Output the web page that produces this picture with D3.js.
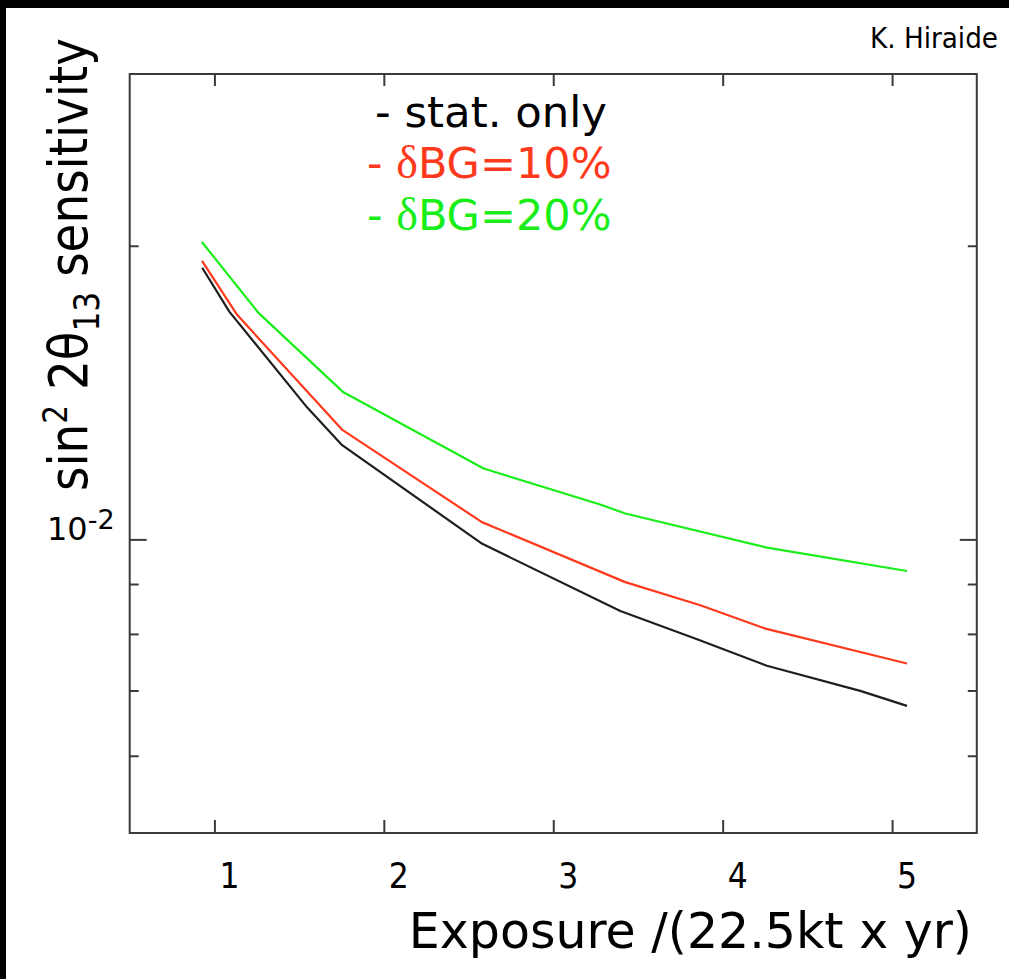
<!DOCTYPE html>
<html><head><meta charset="utf-8">
<script src="https://cdn.jsdelivr.net/npm/d3@7"></script>
<style>html,body{margin:0;padding:0;background:#fff;}svg{display:block;}</style>
</head><body>
<svg id="chart" width="1009" height="979"></svg>
<script>
// ---- data ----
const xTicks = [1, 2, 3, 4, 5];
const yMajorTicks = [0.01];
const yMinorTicks = [0.006, 0.007, 0.008, 0.009, 0.02];
const statX  = [0.928, 1.089, 1.548, 1.754, 2.581, 3.396, 3.849, 4.261, 4.812, 5.088];
const statY  = [0.01899, 0.01711, 0.01365, 0.01249, 0.009895, 0.008445, 0.0079, 0.00742, 0.006993, 0.00675];
const bg10X  = [0.927, 1.133, 1.753, 2.579, 3.425, 3.868, 4.252, 5.088];
const bg10Y  = [0.0193, 0.0170, 0.01296, 0.010416, 0.00904, 0.00856, 0.0081, 0.00746];
const bg20X  = [0.926, 1.26, 1.762, 2.589, 3.277, 3.425, 4.262, 5.088];
const bg20Y  = [0.02018, 0.01707, 0.01415, 0.01182, 0.01086, 0.01063, 0.009806, 0.00928];
const legendLabels = ["- stat. only", "- \u03B4BG=10%", "- \u03B4BG=20%"];
const colors = ["#1e1e1e", "#ff3a1c", "#19ee19"];

const svg = d3.select("#chart");
// black frame band at top and left
svg.append("rect").attr("x",0).attr("y",0).attr("width",1009).attr("height",8).attr("fill","#000");
svg.append("rect").attr("x",0).attr("y",0).attr("width",6).attr("height",979).attr("fill","#000");

const L = 129.7, R = 976.8, T = 74, B = 833;
const x = d3.scaleLinear().domain([0.5, 5.5]).range([L, R]);
const y = d3.scaleLog().domain([0.005, 0.03]).range([B, T]);
const axisColor = "#3a3a3a";

// frame
svg.append("rect").attr("x",L).attr("y",T).attr("width",R-L).attr("height",B-T)
  .attr("fill","none").attr("stroke",axisColor).attr("stroke-width",2);

// x ticks bottom & top
const xb = d3.axisBottom(x).tickValues(xTicks).tickSize(-13).tickFormat("");
svg.append("g").attr("transform",`translate(0,${B})`).call(xb)
  .call(g=>{g.select(".domain").remove(); g.selectAll("line").attr("stroke",axisColor).attr("stroke-width",2);});
const xt = d3.axisTop(x).tickValues(xTicks).tickSize(-12).tickFormat("");
svg.append("g").attr("transform",`translate(0,${T})`).call(xt)
  .call(g=>{g.select(".domain").remove(); g.selectAll("line").attr("stroke",axisColor).attr("stroke-width",2);});
// x tick labels
svg.append("g").selectAll("text").data(xTicks).join("text")
  .attr("x", d=>x(d)+15).attr("y", 888)
  .attr("text-anchor","middle")
  .attr("font-family","'DejaVu Sans Condensed','DejaVu Sans',sans-serif")
  .attr("font-size",35).attr("fill","#000").text(d=>d);

// y ticks left/right
function yAx(axisFn, ticks, size, tx){
  svg.append("g").attr("transform",`translate(${tx},0)`)
    .call(axisFn(y).tickValues(ticks).tickSize(size).tickFormat(""))
    .call(g=>{g.select(".domain").remove(); g.selectAll("line").attr("stroke",axisColor).attr("stroke-width",2);});
}
yAx(d3.axisLeft, yMajorTicks, -17, L);
yAx(d3.axisLeft, yMinorTicks, -9, L);
yAx(d3.axisRight, yMajorTicks, -17, R);
yAx(d3.axisRight, yMinorTicks, -9, R);

// 10^-2 label
const yl = svg.append("text").attr("x",47).attr("y",y(0.01)+1)
  .attr("font-family","'DejaVu Sans',sans-serif").attr("font-size",32).attr("fill","#000");
yl.append("tspan").text("10");
yl.append("tspan").attr("dy",-11).attr("font-size",27).text("-2");

// lines
const series = [[statX,statY],[bg10X,bg10Y],[bg20X,bg20Y]];
const line = d3.line().x(d=>x(d[0])).y(d=>y(d[1]));
series.forEach((s,i)=>{
  const pts = s[0].map((v,j)=>[v,s[1][j]]);
  svg.append("path").datum(pts).attr("d",line).attr("fill","none")
    .attr("stroke",colors[i]).attr("stroke-width",2.2).attr("stroke-linejoin","round");
});

// legend text
const legY = [127, 178, 230];
legendLabels.forEach((lab,i)=>{
  const t = svg.append("text").attr("x", i===0?375:367).attr("y",legY[i])
    .attr("font-family","'DejaVu Sans',sans-serif").attr("font-size",43).attr("fill",colors[i]);
  if(i===0){ t.attr("fill","#000").attr("textLength",232).attr("lengthAdjust","spacingAndGlyphs").text(lab); }
  else {
    t.append("tspan").text("- ");
    t.append("tspan").attr("font-family","'Liberation Serif',serif").attr("font-size",46).text("\u03B4");
    t.append("tspan").text(lab.slice(3));
  }
});

// y axis title
const yt = svg.append("text").attr("transform","translate(87,491) rotate(-90)")
  .attr("font-family","'DejaVu Sans',sans-serif").attr("font-size",54).attr("fill","#000")
  .attr("textLength",453).attr("lengthAdjust","spacingAndGlyphs");
yt.append("tspan").text("sin");
yt.append("tspan").attr("dy",-20).attr("font-size",34).text("2");
yt.append("tspan").attr("dy",20).text(" 2\u03B8");
yt.append("tspan").attr("dy",12).attr("font-size",36).text("13");
yt.append("tspan").attr("dy",-12).text(" sensitivity");

// x axis title
svg.append("text").attr("x",972).attr("y",948).attr("text-anchor","end")
  .attr("font-family","'DejaVu Sans',sans-serif").attr("font-size",49).attr("fill","#000")
  .text("Exposure /(22.5kt x yr)");

// author
svg.append("text").attr("x",870).attr("y",48)
  .attr("font-family","'Liberation Sans Narrow','DejaVu Sans Condensed',sans-serif")
  .attr("font-size",29).attr("textLength",128).attr("lengthAdjust","spacingAndGlyphs")
  .attr("fill","#000").text("K. Hiraide");
</script>
</body></html>
